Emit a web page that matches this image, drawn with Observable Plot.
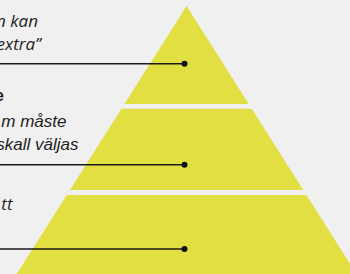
<!DOCTYPE html>
<html>
<head>
<meta charset="utf-8">
<script src="https://cdn.jsdelivr.net/npm/d3@7"></script>
<script src="https://cdn.jsdelivr.net/npm/@observablehq/plot@0.6"></script>
<style>
  html, body { margin: 0; padding: 0; background: #f0f0f0; }
  svg { display: block; }
</style>
</head>
<body>
<div id="chart"></div>
<script>
// Pyramid tiers (top/bottom in vertical units from the top of the picture)
const tiers = ["Topp", "Mitten", "Bas"];
const tierTop = [6, 108.7, 195];
const tierBottom = [104, 190, 290];
// Pyramid geometry: apex position and half-width growth per unit of height
const apexX = 186.6;
const apexY = 6;
const halfSlope = 0.634;

// Callout lines and dots
const calloutY = [63.3, 164.3, 248.5];
const calloutDotX = 184;

// Text fragments (visible parts of the labels)
const labelText = ["n kan", "extra”", "e", "m måste", "skall väljas", "tt"];
const labelX = [37.5, 40.5, 3.5, 66, 78, 12];
const labelY = [26.5, 49, 100.5, 126, 149.5, 209];
const labelFont = ["Open Sans", "Open Sans", "Liberation Sans", "Liberation Sans", "Liberation Sans", "Open Sans"];
const labelWeight = ["normal", "normal", "bold", "normal", "normal", "normal"];
const labelStyle = ["italic", "italic", "normal", "italic", "italic", "italic"];

const edge = (y, s) => apexX + s * halfSlope * (y - apexY);
const polys = [];
tiers.forEach((t, i) => {
  for (const y of [tierTop[i], tierBottom[i]]) {
    polys.push({tier: t, y, x1: edge(y, -1), x2: edge(y, 1)});
  }
});
const labels = labelText.map((t, i) => ({t, x: labelX[i], y: labelY[i], font: labelFont[i], weight: labelWeight[i], style: labelStyle[i]}));
const callouts = calloutY.map(y => ({y, x: calloutDotX}));

const textMarks = labels.map(d => Plot.text([d], {
  x: "x", y: "y", text: "t", textAnchor: "end", lineAnchor: "bottom",
  fontFamily: d.font, fontWeight: d.weight, fontStyle: d.style, fontSize: 17, fill: "#1e1e1e"
}));

const chart = Plot.plot({
  width: 350, height: 274,
  margin: 0,
  x: {domain: [0, 350], range: [0, 350], axis: null},
  y: {domain: [0, 274], range: [0, 274], axis: null},
  style: {background: "#f0f0f0", overflow: "hidden"},
  marks: [
    ...tiers.map(t => Plot.areaX(polys.filter(p => p.tier === t), {y: "y", x1: "x1", x2: "x2", fill: "#e1df42", curve: "linear"})),
    Plot.ruleY(callouts, {y: "y", x1: 0, x2: "x", stroke: "#1a1a1a", strokeWidth: 1.6}),
    Plot.dot(callouts, {x: "x", y: "y", r: 3, fill: "#111", stroke: "none"}),
    ...textMarks
  ]
});
document.getElementById("chart").appendChild(chart);
</script>
</body>
</html>
